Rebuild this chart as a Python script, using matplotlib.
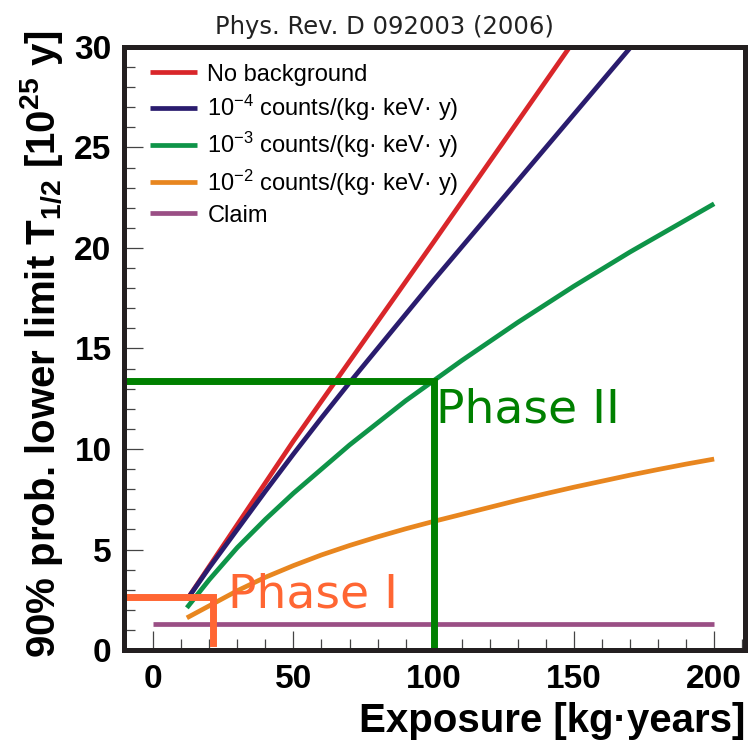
import matplotlib

matplotlib.use("Agg")

import matplotlib.pyplot as plt
from matplotlib.ticker import MultipleLocator

# curves (exposure in kg*yr, limit in 1e25 y)
exp_nobkg = [12, 50, 100, 150]
lim_nobkg = [2.5, 10.4, 20.3, 30.3]

exp_b4 = [12, 20, 30, 40, 50, 60, 70, 80, 90, 100, 110, 120, 130, 140, 150, 160, 170, 175]
lim_b4 = [2.5, 4.1, 6.0, 7.9, 9.75, 11.55, 13.3, 15.0, 16.7, 18.4, 20.05, 21.7, 23.35,
          25.0, 26.65, 28.3, 29.95, 30.8]

exp_b3 = [12, 20, 30, 40, 50, 60, 70, 80, 90, 100, 110, 120, 130, 140, 150, 160, 170,
          180, 190, 200]
lim_b3 = [2.1, 3.5, 5.1, 6.5, 7.8, 9.0, 10.2, 11.3, 12.4, 13.4, 14.4, 15.35, 16.3,
          17.2, 18.1, 18.95, 19.8, 20.6, 21.4, 22.2]

exp_b2 = [12, 20, 30, 40, 50, 60, 70, 80, 90, 100, 110, 120, 130, 140, 150, 160, 170,
          180, 190, 200]
lim_b2 = [1.6, 2.2, 2.95, 3.62, 4.2, 4.73, 5.2, 5.63, 6.03, 6.4, 6.75, 7.1, 7.45, 7.78,
          8.1, 8.4, 8.7, 8.98, 9.25, 9.5]

exp_claim = [0, 200]
lim_claim = [1.3, 1.3]

phase1_x = [-12, 21.4, 21.4]
phase1_y = [2.65, 2.65, 0.35]
phase2_x = [-12, 100, 100]
phase2_y = [13.4, 13.4, 0.0]

labels = [
    "No background",
    "10$^{-4}$ counts/(kg· keV· y)",
    "10$^{-3}$ counts/(kg· keV· y)",
    "10$^{-2}$ counts/(kg· keV· y)",
    "Claim",
]
colors = ["#d9262a", "#2a1c6e", "#0e9448", "#e8861f", "#9a4f85"]

plt.rcParams["font.family"] = ["Liberation Sans", "DejaVu Sans"]
plt.rcParams["mathtext.default"] = "regular"

fig = plt.figure(figsize=(7.53, 7.54), dpi=100)
ax = fig.add_axes([0.1647, 0.1379, 0.8247, 0.7998])

curves = [
    (exp_nobkg, lim_nobkg),
    (exp_b4, lim_b4),
    (exp_b3, lim_b3),
    (exp_b2, lim_b2),
    (exp_claim, lim_claim),
]
for (xs, ys), color, label in zip(curves, colors, labels):
    ax.plot(xs, ys, color=color, lw=3.4, label=label, solid_capstyle="butt",
            solid_joinstyle="round")

ax.plot(phase1_x, phase1_y, color="#ff6633", lw=5, solid_joinstyle="miter")
ax.plot(phase2_x, phase2_y, color="#008000", lw=5, solid_joinstyle="miter")
ax.text(26.8, 2.1, "Phase I", color="#ff6633", fontsize=34, family="DejaVu Sans")
ax.text(101, 11.3, "Phase II", color="#008000", fontsize=34, family="DejaVu Sans")

ax.set_xlim(-10.4, 211)
ax.set_ylim(0, 30)
ax.xaxis.set_major_locator(MultipleLocator(50))
ax.xaxis.set_minor_locator(MultipleLocator(10))
ax.yaxis.set_major_locator(MultipleLocator(5))
ax.yaxis.set_minor_locator(MultipleLocator(1))
ax.tick_params(which="both", direction="in", color="#444444", width=0.9)
ax.tick_params(which="major", length=14)
ax.tick_params(which="minor", length=8)
ax.tick_params(axis="x", pad=10, labelsize=24)
ax.tick_params(axis="y", pad=9, labelsize=24)
for lab in ax.get_xticklabels() + ax.get_yticklabels():
    lab.set_fontweight("bold")
for spine in ax.spines.values():
    spine.set_linewidth(3.6)
    spine.set_color("#231f20")

ax.set_xlabel("Exposure [kg·years]", fontsize=29, fontweight="bold", loc="right")
ax.xaxis.set_label_coords(1.0, -0.087)
ax.xaxis.label.set_va("top")
ax.set_ylabel("90% prob. lower limit T$_{1/2}$ [10$^{25}$ y]", fontsize=29,
              fontweight="bold", loc="top")
ax.yaxis.set_label_coords(-0.095, 1.028)

leg = ax.legend(loc="upper left", bbox_to_anchor=(0.027, 0.988), frameon=False,
                fontsize=17, handlelength=2.0, handletextpad=0.42,
                labelspacing=0.3, borderaxespad=0.0)

fig.text(0.51, 0.964, "Phys. Rev. D 092003 (2006)", ha="center", va="center",
         fontsize=17.5, family="DejaVu Sans", color="#222222")

fig.savefig("out.png", dpi=100)
